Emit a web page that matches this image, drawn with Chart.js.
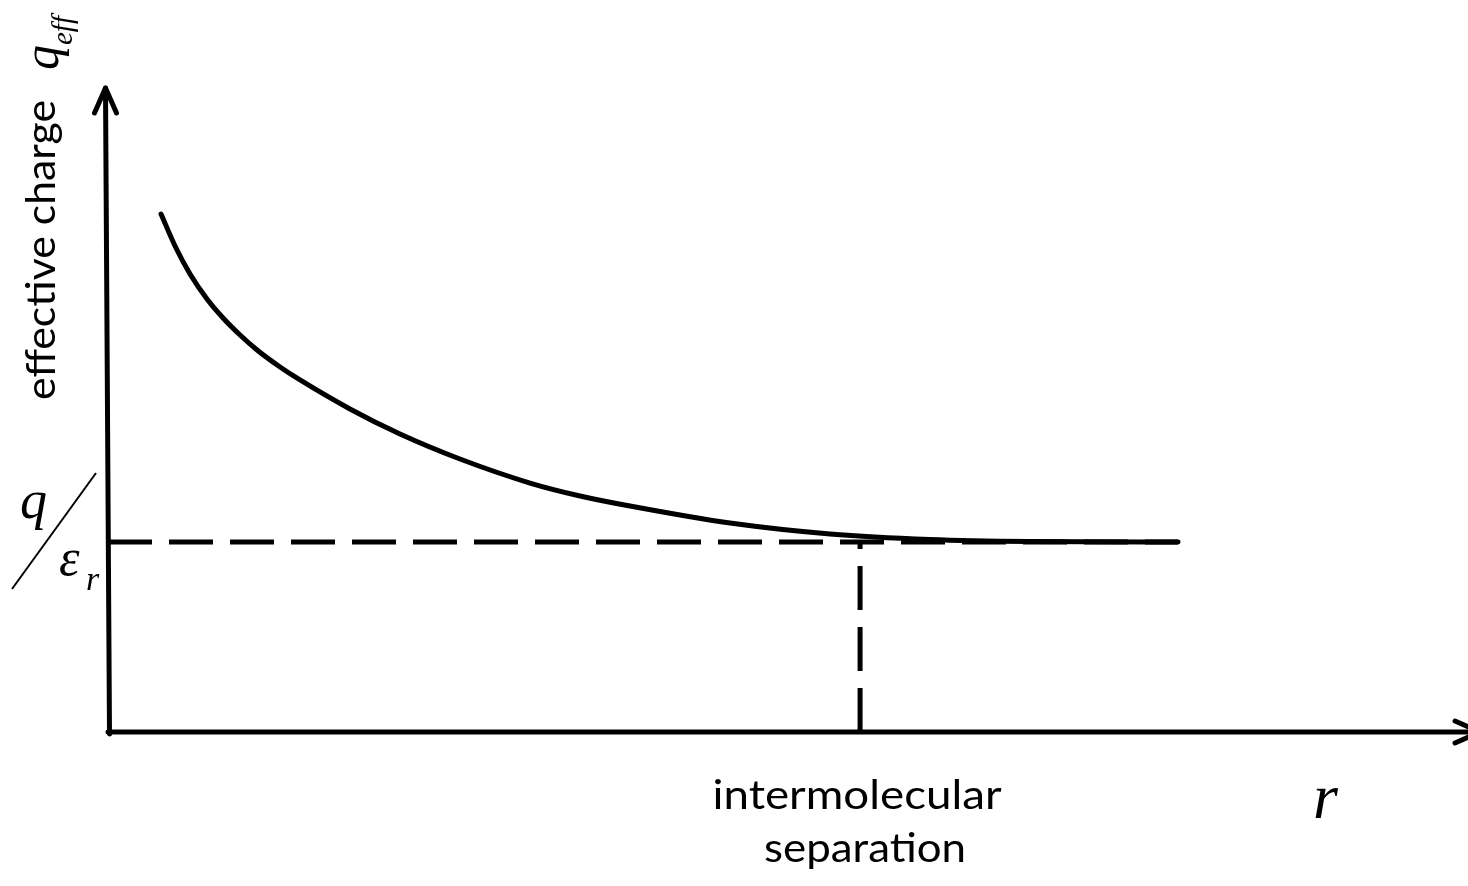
<!DOCTYPE html>
<html>
<head>
<meta charset="utf-8">
<script src="https://cdn.jsdelivr.net/npm/chart.js@4/dist/chart.umd.min.js"></script>
<style>
  html, body { margin: 0; padding: 0; background: #fff; }
  #wrap { width: 1468px; height: 886px; }
</style>
</head>
<body>
<div id="wrap"><canvas id="qeffChart" width="1468" height="886"></canvas></div>
<script>
// ── Data (arbitrary units 0..10) ──────────────────────────────────────────────

const rValues    = [0.390, 0.493, 0.603, 0.728, 0.846, 0.971, 1.096, 1.265, 1.412, 1.779,
                    2.147, 2.588, 3.103, 3.471, 3.838, 4.574, 5.309, 6.044, 6.779, 7.868];
const qeffValues = [8.043, 7.547, 7.112, 6.724, 6.429, 6.165, 5.932, 5.668, 5.466, 5.016,
                    4.627, 4.239, 3.866, 3.665, 3.509, 3.245, 3.075, 2.989, 2.958, 2.950];

const plateauQ   = 2.95;   // q / eps_r
const plateauEnd = 7.868;  // dashed level ends with the curve
const sepR       = 5.53;   // intermolecular separation marker

const axisMin = 0;
const axisMax = 10;

// ── Helpers ───────────────────────────────────────────────────────────────────

const INK = '#000000';
const sans  = '"Lato", "Open Sans", sans-serif';
const serif = '"Liberation Serif", "DejaVu Serif", serif';

function curvePoints() {
  return rValues.map((r, i) => ({ x: r, y: qeffValues[i] }));
}

function arrowHead(ctx, tipX, tipY, dx, dy) {
  // dx,dy = unit vector pointing along the arrow
  const back = 25, half = 11;
  const bx = tipX - dx * back, by = tipY - dy * back;
  ctx.beginPath();
  ctx.moveTo(bx - dy * half, by + dx * half);
  ctx.lineTo(tipX, tipY);
  ctx.lineTo(bx + dy * half, by - dx * half);
  ctx.stroke();
}

// Lato is a little narrower than the original Calibri: stretch to the measured width
function fitText(ctx, text, x, y, width, align) {
  const w = ctx.measureText(text).width;
  const k = width / w;
  ctx.save();
  ctx.translate(x, y);
  ctx.scale(k, 1);
  ctx.textAlign = align || 'left';
  ctx.fillText(text, 0, 0);
  ctx.restore();
}

// ── Plugin: axes with arrows + labels ─────────────────────────────────────────

const sketchPlugin = {
  id: 'sketch',
  afterDatasetsDraw(chart) {
    const { ctx, scales: { x, y } } = chart;
    const x0 = x.getPixelForValue(axisMin);
    const y0 = y.getPixelForValue(axisMin);
    const yTop = y.getPixelForValue(axisMax);

    ctx.save();
    ctx.strokeStyle = INK;
    ctx.lineCap = 'round';
    ctx.lineJoin = 'round';
    ctx.lineWidth = 5;

    // y axis (slightly leaning, like the hand drawing)
    ctx.beginPath();
    ctx.moveTo(x0 + 1.5, y0 + 2);
    ctx.lineTo(x0 - 2.5, yTop);
    ctx.stroke();
    arrowHead(ctx, x0 - 2.5, yTop, 0, -1);

    // x axis
    const xEnd = x.getPixelForValue(axisMax) + 12;
    ctx.beginPath();
    ctx.moveTo(x0, y0);
    ctx.lineTo(xEnd, y0);
    ctx.stroke();
    arrowHead(ctx, xEnd, y0, 1, 0);

    ctx.fillStyle = INK;
    ctx.textBaseline = 'alphabetic';

    // y title: "effective charge q_eff"
    ctx.save();
    ctx.translate(55, 400);
    ctx.rotate(-Math.PI / 2);
    ctx.font = `40px ${sans}`;
    fitText(ctx, 'effective charge', 0, 0, 300, 'left');
    ctx.textAlign = 'left';
    ctx.font = `italic 50px ${serif}`;
    ctx.fillText('q', 330, 3);
    ctx.font = `italic 29px ${serif}`;
    ctx.fillText('eff', 355, 17);
    ctx.restore();

    // level label  q / eps_r
    ctx.textAlign = 'left';
    ctx.font = `italic 54px ${serif}`;
    ctx.fillText('q', 20, 518);
    ctx.font = `italic 52px ${serif}`;
    ctx.fillText('\u03B5', 59, 575);
    ctx.font = `italic 34px ${serif}`;
    ctx.fillText('r', 86, 590);
    ctx.lineWidth = 2;
    ctx.lineCap = 'butt';
    ctx.beginPath();
    ctx.moveTo(96, 473);
    ctx.lineTo(12, 589);
    ctx.stroke();

    // x labels
    ctx.font = `40px ${sans}`;
    const sx = x.getPixelForValue(sepR);
    fitText(ctx, 'intermolecular', sx - 3, 809, 289, 'center');
    fitText(ctx, 'separation', sx + 5, 862, 202, 'center');

    ctx.textAlign = 'left';
    ctx.font = `italic 64px ${serif}`;
    ctx.fillText('r', 1313, 818);

    ctx.restore();
  }
};

// ── Chart ─────────────────────────────────────────────────────────────────────

const dashStyle = { borderColor: INK, borderWidth: 5, borderDash: [44, 17], pointRadius: 0, tension: 0, fill: false, showLine: true };

const qeffChart = new Chart(document.getElementById('qeffChart').getContext('2d'), {
  type: 'scatter',
  data: {
    datasets: [
      {
        label: 'q_eff',
        data: curvePoints(),
        borderColor: INK,
        borderWidth: 5,
        borderCapStyle: 'round',
        pointRadius: 0,
        showLine: true,
        cubicInterpolationMode: 'monotone',
        fill: false
      },
      {
        label: 'q/eps_r',
        data: [{ x: axisMin, y: plateauQ }, { x: plateauEnd, y: plateauQ }],
        ...dashStyle
      },
      {
        label: 'separation',
        data: [{ x: sepR, y: axisMin }, { x: sepR, y: plateauQ }],
        ...dashStyle
      }
    ]
  },
  options: {
    responsive: false,
    animation: false,
    clip: false,
    layout: { padding: { left: 108, top: 88, right: 0, bottom: 154 } },
    plugins: { legend: { display: false }, tooltip: { enabled: false } },
    scales: {
      x: { type: 'linear', min: axisMin, max: axisMax, display: false },
      y: { type: 'linear', min: axisMin, max: axisMax, display: false }
    }
  },
  plugins: [sketchPlugin]
});
</script>
</body>
</html>
